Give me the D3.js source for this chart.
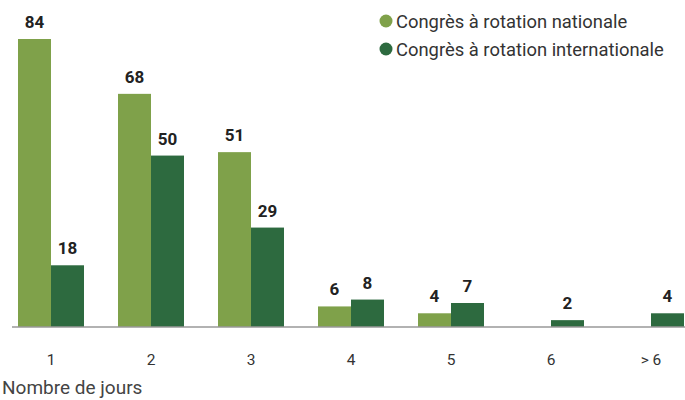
<!DOCTYPE html>
<html><head><meta charset="utf-8">
<script src="https://cdn.jsdelivr.net/npm/d3@7"></script>
<style>body{margin:0;background:#fff;} svg{display:block;font-family:Roboto, sans-serif;}</style>
</head><body>
<svg id="c" width="685" height="400"></svg>
<script>
const categories = ["1","2","3","4","5","6","> 6"];
const national = [84,68,51,6,4,null,null];
const international = [18,50,29,8,7,2,4];
const seriesNames = ["Congrès à rotation nationale","Congrès à rotation internationale"];
const colors = ["#7fa14a","#2d6a3f"];

const svg = d3.select("#c");
const baseY = 327;
const x = d3.scaleBand().domain(categories).range([18,684]).paddingInner(0.34).paddingOuter(0);
const xs = d3.scaleBand().domain([0,1]).range([0,x.bandwidth()]);
const y = d3.scaleLinear().domain([0,84]).range([baseY,39]);

const series = [national, international];
series.forEach((vals,si)=>{
  const g = svg.append("g");
  const data = categories.map((c,i)=>({c,v:vals[i]})).filter(d=>d.v!=null);
  g.selectAll("rect").data(data).join("rect")
    .attr("x",d=>x(d.c)+xs(si)).attr("width",xs.bandwidth())
    .attr("y",d=>y(d.v)).attr("height",d=>baseY-y(d.v))
    .attr("fill",colors[si]);
  g.selectAll("text").data(data).join("text")
    .attr("x",d=>x(d.c)+xs(si)+xs.bandwidth()/2)
    .attr("y",d=>y(d.v)-11)
    .attr("text-anchor","middle").attr("font-weight","bold")
    .attr("font-size",17).attr("fill","#222").text(d=>d.v);
});

// axis
const ax = svg.append("g").attr("transform",`translate(0,${baseY})`)
  .call(d3.axisBottom(x).tickSize(0).tickPadding(27));
ax.select(".domain").attr("d","M12,0H685").attr("stroke","#999").attr("stroke-width",1.5);
ax.selectAll(".tick text").attr("font-size",15.5).attr("fill","#333").attr("font-family","Roboto, sans-serif");

svg.append("text").attr("x",2).attr("y",394).attr("font-size",19).attr("fill","#444").text("Nombre de jours");

// legend
const leg = svg.append("g");
seriesNames.forEach((n,i)=>{
  const yy = 21 + i*28;
  leg.append("circle").attr("cx",386).attr("cy",yy).attr("r",6.5).attr("fill",colors[i]);
  leg.append("text").attr("x",396).attr("y",yy+6.5).attr("font-size",18.4).attr("fill","#333").text(n);
});
</script>
</body></html>
